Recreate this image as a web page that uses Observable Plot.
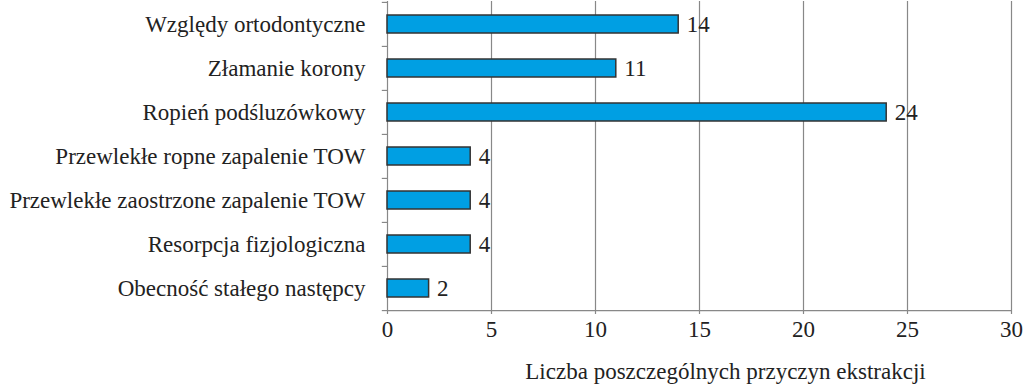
<!DOCTYPE html>
<html>
<head>
<meta charset="utf-8">
<script src="https://cdn.jsdelivr.net/npm/d3@7"></script>
<script src="https://cdn.jsdelivr.net/npm/@observablehq/plot@0.6"></script>
<style>
  html, body { margin: 0; padding: 0; background: #fff; }
  svg text { font-family: 'Liberation Serif', serif; }
</style>
</head>
<body>
<div id="chart"></div>
<script>
const categories = [
  "Względy ortodontyczne",
  "Złamanie korony",
  "Ropień podśluzówkowy",
  "Przewlekłe ropne zapalenie TOW",
  "Przewlekłe zaostrzone zapalenie TOW",
  "Resorpcja fizjologiczna",
  "Obecność stałego następcy"
];
const values = [14, 11, 24, 4, 4, 4, 2];
const xTicks = [0, 5, 10, 15, 20, 25, 30];
const xLabel = "Liczba poszczególnych przyczyn ekstrakcji";

const data = categories.map((c, i) => ({category: c, value: values[i]}));

const W = 1024, H = 390, mT = 1, mB = 80;
const step = (H - mT - mB) / categories.length;
const FONT = "'Liberation Serif', serif";
const FS = 23;

const chart = Plot.plot({
  width: W,
  height: H,
  marginLeft: 387,
  marginRight: 13,
  marginTop: mT,
  marginBottom: mB,
  style: {fontFamily: FONT, fontSize: FS + "px", color: "#222", background: "#fff"},
  x: {domain: [0, 30], label: null},
  y: {domain: categories, paddingInner: 0.6, paddingOuter: 0.3, label: null},
  marks: [
    Plot.ruleX(xTicks, {x: d => d, stroke: "#888", strokeWidth: 1.2, strokeOpacity: 1, insetBottom: -4}),
    Plot.ruleY([categories[categories.length - 1]], {y: d => d, x1: 0, x2: 30, dy: step / 2, stroke: "#888", strokeWidth: 1.2}),
    Plot.ruleY(categories, {y: d => d, x1: -0.25, x2: 0, dy: -step / 2, stroke: "#888", strokeWidth: 1.2}),
    Plot.ruleY([categories[categories.length - 1]], {y: d => d, x1: -0.25, x2: 0, dy: step / 2, stroke: "#888", strokeWidth: 1.2}),
    Plot.axisY({tickSize: 0, tickPadding: 22, fontSize: FS, fontFamily: FONT, fill: "#222", label: null}),
    Plot.axisX({ticks: xTicks, tickSize: 0, tickPadding: 10, fontSize: FS, fontFamily: FONT, fill: "#222", label: null, tickFormat: d => String(d)}),
    Plot.barX(data, {x: "value", y: "category", fill: "#009FE3", stroke: "#333", strokeWidth: 1.5}),
    Plot.text(data, {x: "value", y: "category", text: d => String(d.value), textAnchor: "start", dx: 8, fontSize: FS, fontFamily: FONT, fill: "#222"}),
    Plot.text([xLabel], {text: d => d, frameAnchor: "bottom", dx: 26, dy: 68, fontSize: FS, fontFamily: FONT, fill: "#222"})
  ]
});
document.getElementById("chart").appendChild(chart);
</script>
</body>
</html>
